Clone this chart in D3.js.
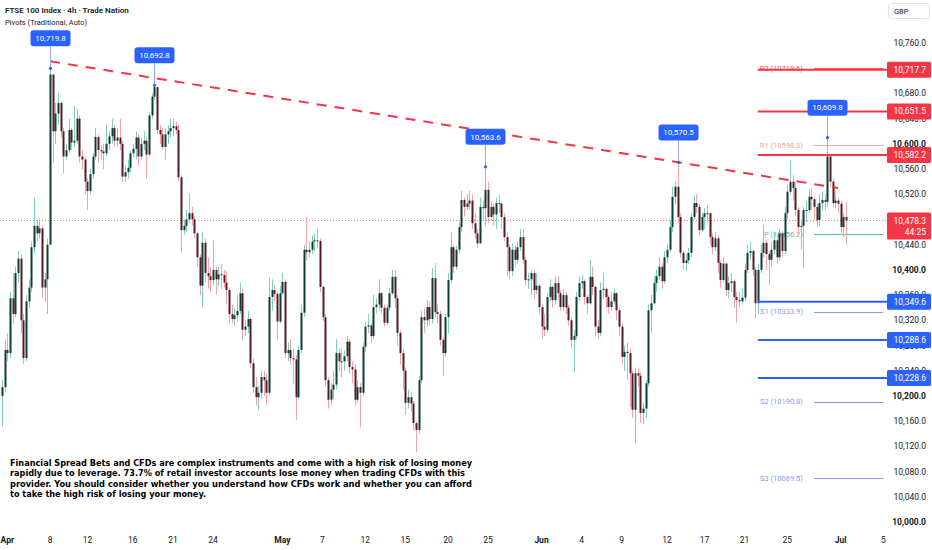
<!DOCTYPE html>
<html>
<head>
<meta charset="utf-8">
<script src="https://cdn.jsdelivr.net/npm/d3@7"></script>
<style>
body { margin: 0; background: #ffffff; }
svg { display: block; font-family: Roboto, "Noto Sans", sans-serif; }
</style>
</head>
<body>
<script>
// 4h candles: [high, low, close]; open = previous close
var firstOpen = 10200;
var candles = [
 [10225,10152,10214],[10290,10205,10273],[10300,10255,10268],[10365,10260,10355],[10395,10315,10330],
 [10405,10325,10395],[10430,10380,10418],[10425,10300,10320],[10330,10250,10260],[10360,10255,10350],
 [10385,10340,10372],[10445,10365,10436],[10514,10425,10470],[10480,10445,10458],[10482,10450,10466],
 [10470,10355,10372],[10395,10350,10385],[10450,10330,10440],[10719.8,10440,10710],[10700,10570,10620],
 [10665,10600,10648],[10680,10630,10665],[10668,10610,10620],[10625,10553,10580],[10600,10575,10590],
 [10640,10585,10622],[10625,10590,10602],[10660,10595,10605],[10655,10600,10640],[10645,10570,10580],
 [10590,10560,10575],[10580,10520,10540],[10545,10495,10525],[10560,10520,10552],[10585,10545,10580],
 [10625,10575,10611],[10615,10570,10590],[10598,10575,10588],[10600,10560,10585],[10630,10580,10600],
 [10620,10590,10612],[10640,10600,10625],[10630,10595,10605],[10625,10595,10610],[10640,10590,10600],
 [10605,10540,10548],[10565,10540,10555],[10575,10545,10562],[10590,10555,10585],[10600,10578,10592],
 [10620,10575,10610],[10615,10565,10580],[10610,10575,10600],[10620,10590,10605],[10610,10545,10583],
 [10650,10580,10645],[10680,10640,10675],[10692.8,10670,10690],[10688,10615,10622],[10630,10600,10615],
 [10625,10590,10595],[10625,10575,10615],[10630,10600,10620],[10640,10610,10625],[10640,10612,10628],
 [10635,10615,10622],[10630,10540,10547],[10550,10427,10463],[10480,10455,10470],[10495,10460,10480],
 [10522,10475,10490],[10500,10470,10480],[10485,10450,10458],[10460,10405,10420],[10425,10360,10375],
 [10460,10341,10443],[10450,10380,10395],[10420,10370,10390],[10405,10365,10384],[10447,10375,10400],
 [10405,10360,10385],[10405,10375,10393],[10410,10370,10392],[10400,10372,10380],[10398,10345,10368],
 [10372,10315,10330],[10345,10315,10322],[10340,10312,10328],
 [10360,10318,10335],[10379,10330,10363],[10370,10289,10305],[10320,10295,10310],[10335,10300,10322],
 [10325,10245,10252],[10260,10205,10214],[10230,10185,10198],[10215,10178,10205],[10240,10195,10230],
 [10240,10200,10225],[10235,10185,10205],[10387,10200,10357],[10385,10335,10368],[10375,10350,10362],
 [10365,10290,10318],[10375,10315,10363],[10395,10360,10381],[10385,10260,10268],[10285,10255,10273],
 [10290,10250,10260],[10275,10220,10258],[10265,10162,10198],[10280,10195,10273],[10345,10268,10332],
 [10440,10325,10432],[10484,10415,10428],[10445,10420,10432],[10455,10425,10445],[10458,10430,10447],
 [10465,10435,10446],[10450,10365,10373],[10375,10318,10325],[10330,10215,10225],[10230,10180,10194],
 [10220,10185,10210],[10240,10195,10218],[10290,10210,10268],[10275,10240,10255],[10275,10230,10255],
 [10272,10240,10263],[10295,10255,10286],[10290,10235,10246],[10255,10220,10242],[10250,10185,10194],
 [10225,10190,10214],[10220,10150,10205],[10285,10200,10278],[10318,10270,10310],[10330,10300,10312],
 [10315,10285,10295],[10360,10290,10341],[10355,10330,10345],[10385,10335,10363],[10365,10330,10340],
 [10345,10310,10316],[10345,10312,10340],[10372,10335,10363],[10400,10360,10389],[10400,10340,10355],
 [10360,10280,10300],[10305,10250,10268],[10275,10210,10240],[10245,10170,10189],[10210,10180,10198],
 [10205,10175,10188],[10192,10145,10157],[10160,10111,10146],[10232,10140,10225],[10335,10220,10325],
 [10340,10300,10320],[10352,10310,10341],[10350,10312,10322],[10403,10315,10387],[10411,10325,10333],
 [10345,10315,10330],[10335,10280,10289],[10292,10232,10268],[10330,10262,10325],[10395,10300,10384],
 [10460,10380,10436],[10440,10395,10405],[10438,10400,10432],[10475,10425,10468],[10525,10460,10511],
 [10515,10485,10500],
 [10520,10495,10505],[10525,10495,10510],[10520,10465,10474],[10490,10450,10458],[10465,10435,10442],
 [10515,10442,10500],[10510,10480,10498],[10563.6,10470,10527],[10540,10475,10484],[10510,10478,10500],
 [10505,10470,10488],[10515,10465,10506],[10520,10490,10505],[10508,10465,10484],[10490,10445,10452],
 [10460,10390,10436],[10440,10385,10398],[10442,10390,10432],[10440,10405,10416],[10445,10410,10436],
 [10465,10430,10452],[10465,10410,10416],[10420,10375,10384],[10395,10370,10385],[10400,10360,10395],
 [10400,10355,10368],[10395,10362,10375],[10378,10330,10341],[10345,10290,10310],[10330,10295,10305],
 [10362,10300,10357],[10385,10350,10373],[10375,10340,10352],[10390,10345,10379],[10390,10352,10363],
 [10368,10335,10341],[10370,10335,10360],[10365,10330,10340],[10345,10312,10320],[10325,10275,10289],
 [10305,10238,10295],[10365,10290,10357],[10390,10350,10379],[10392,10370,10382],[10385,10345,10357],
 [10360,10330,10347],[10416,10345,10389],[10405,10360,10373],[10375,10295,10310],[10320,10290,10300],
 [10380,10295,10368],[10395,10355,10370],[10372,10340,10357],[10360,10330,10341],[10365,10335,10350],
 [10370,10345,10363],[10365,10320,10336],[10340,10295,10310],[10315,10250,10262],[10280,10240,10270],
 [10285,10225,10268],[10275,10182,10236],[10240,10165,10178],[10245,10125,10236],[10245,10215,10232],
 [10238,10157,10173],[10190,10155,10180],[10225,10165,10220],[10345,10215,10336],[10360,10300,10347],
 [10390,10345,10379],[10400,10365,10390],[10420,10385,10405],[10410,10370,10382],[10430,10378,10420],
 [10440,10410,10432],[10480,10428,10468],[10532,10460,10516],[10540,10505,10532],[10570.5,10475,10484],
 [10490,10420,10427],[10430,10400,10411],[10425,10398,10415],[10435,10410,10427],[10490,10420,10484],
 [10518,10480,10506],
 [10520,10490,10500],[10505,10455,10463],[10490,10460,10484],[10498,10465,10490],[10502,10475,10490],
 [10492,10440,10452],[10458,10425,10436],[10460,10430,10450],[10455,10395,10411],[10415,10372,10384],
 [10420,10380,10410],[10412,10358,10368],[10390,10355,10379],[10395,10365,10382],[10385,10340,10357],
 [10365,10316,10352],[10365,10340,10350],[10370,10345,10356],[10410,10350,10400],[10440,10395,10427],
 [10445,10415,10430],[10432,10390,10400],[10405,10322,10347],[10410,10330,10400],[10440,10395,10427],
 [10471,10420,10443],[10448,10400,10425],[10430,10376,10416],[10445,10405,10432],[10460,10425,10447],
 [10455,10410,10420],[10465,10415,10458],[10462,10420,10430],[10500,10425,10490],[10535,10480,10524],
 [10574,10520,10540],[10550,10510,10530],[10540,10485,10495],[10500,10455,10468],[10480,10432,10470],
 [10500,10403,10495],[10510,10475,10495],[10528,10490,10516],[10530,10495,10512],[10515,10480,10500],
 [10505,10468,10479],[10520,10470,10506],[10525,10495,10511],[10520,10495,10508],[10609.8,10500,10580],
 [10582,10532,10540],[10545,10500,10506],[10525,10498,10510],[10515,10490,10505],[10510,10458,10468],
 [10490,10452,10484],[10508,10440,10478.3]
];

var priceTicks = [10000,10040,10080,10120,10160,10200,10240,10280,10320,10360,
                  10400,10440,10480,10520,10560,10600,10640,10680,10720,10760];
var boldTicks = [10000,10200,10400,10600];

var timeLabels = ["Apr","8","12","16","21","24","May","7","12","15","20","25",
                  "Jun","4","9","12","17","21","25","Jul","5"];
var timeBars = [2,18,32,49,64,79,105,120,136,151,167,182,202,217,232,249,263,278,294,314,330];
var monthLabels = ["Apr","May","Jun","Jul"];

var pivotNames = ["R2","R1","P","S1","S2","S3"];
var pivotValues = [10719.6,10598.3,10456.2,10333.9,10190.8,10069.5];
var pivotColors = ["#f7525f","#f7a1a8","#5cbfa7","#7e9cf8","#7e9cf8","#7e9cf8"];
var pivotStartBar = 304, pivotEndBar = 330;

var resistLevels = [10717.7,10651.5,10582.2];
var supportLevels = [10349.6,10288.6,10228.6];
var levelStartBar = 283;

var swingHighs = [10719.8,10692.8,10563.6,10570.5,10609.8];
var trendBars = [18,313];
var trendPrices = [10731,10530];

var lastPrice = 10478.3;
var countdown = "44:25";

var disclaimer = [
 "Financial Spread Bets and CFDs are complex instruments and come with a high risk of losing money",
 "rapidly due to leverage. 73.7% of retail investor accounts lose money when trading CFDs with this",
 "provider. You should consider whether you understand how CFDs work and whether you can afford",
 "to take the high risk of losing your money."
];
var disclaimerWidths = [462,455,462,196];

// ---- setup
var W = 932, H = 550;
var svg = d3.select("body").append("svg").attr("width", W).attr("height", H);

var n = candles.length;
var x = d3.scaleLinear().domain([0, n - 1]).range([2, 846]);
var y = d3.scaleLinear().domain([10000, 10760]).range([522, 43]);
var plotRight = 887;

var fmt = d3.format(",.1f");

var bars = candles.map(function(d, i){
  var o = i == 0 ? firstOpen : candles[i-1][2];
  return {i: i, o: o, h: d[0], l: d[1], c: d[2]};
});

var plot = svg.append("g");

// last price dotted line
plot.append("line")
  .attr("x1", 0).attr("x2", plotRight)
  .attr("y1", y(lastPrice)).attr("y2", y(lastPrice))
  .attr("stroke", "#f23645").attr("stroke-opacity", 0.7)
  .attr("stroke-width", 1).attr("stroke-dasharray", "1,2");

// pivots
var piv = plot.selectAll("g.pivot")
  .data(pivotValues)
  .enter().append("g").attr("class", "pivot");

piv.append("line")
  .attr("x1", x(pivotStartBar)).attr("x2", x(pivotEndBar))
  .attr("y1", function(d){ return Math.round(y(d)) + 0.5; })
  .attr("y2", function(d){ return Math.round(y(d)) + 0.5; })
  .attr("stroke", function(d,i){ return pivotColors[i]; })
  .attr("stroke-width", 1);

piv.append("text")
  .attr("x", x(pivotStartBar) - 11)
  .attr("y", function(d){ return y(d); })
  .attr("dy", "0.35em")
  .attr("text-anchor", "end")
  .style("font-size", "7.5px")
  .attr("fill", function(d,i){ return pivotColors[i]; })
  .text(function(d,i){ return pivotNames[i] + " (" + d3.format(".1f")(d) + ")"; });

// candles
var upWick = "#7fcfc2", downWick = "#f5a3ab";
var upBody = "#0e3d36", downBody = "#541d25";

plot.selectAll("line.wick")
  .data(bars)
  .enter().append("line")
  .attr("class", "wick")
  .attr("x1", function(d){ return Math.round(x(d.i)) + 0.5; })
  .attr("x2", function(d){ return Math.round(x(d.i)) + 0.5; })
  .attr("y1", function(d){ return y(Math.max(d.h, d.o, d.c)); })
  .attr("y2", function(d){ return y(Math.min(d.l, d.o, d.c)); })
  .attr("stroke", function(d){ return d.c >= d.o ? upWick : downWick; })
  .attr("stroke-width", 1);

plot.selectAll("rect.body")
  .data(bars)
  .enter().append("rect")
  .attr("class", "body")
  .attr("x", function(d){ return Math.round(x(d.i)) - 0.5; })
  .attr("width", 2)
  .attr("y", function(d){ return y(Math.max(d.o, d.c)); })
  .attr("height", function(d){ return Math.max(1, Math.abs(y(d.o) - y(d.c))); })
  .attr("fill", function(d){ return d.c >= d.o ? upBody : downBody; });

// horizontal levels
plot.selectAll("line.res")
  .data(resistLevels)
  .enter().append("line")
  .attr("x1", x(levelStartBar)).attr("x2", plotRight)
  .attr("y1", function(d){ return y(d); }).attr("y2", function(d){ return y(d); })
  .attr("stroke", "#f23645").attr("stroke-width", 2);

plot.selectAll("line.sup")
  .data(supportLevels)
  .enter().append("line")
  .attr("x1", x(levelStartBar)).attr("x2", plotRight)
  .attr("y1", function(d){ return y(d); }).attr("y2", function(d){ return y(d); })
  .attr("stroke", "#2962ff").attr("stroke-width", 2);

// trend line
plot.append("line")
  .attr("x1", x(trendBars[0])).attr("y1", y(trendPrices[0]))
  .attr("x2", x(trendBars[1])).attr("y2", y(trendPrices[1]))
  .attr("stroke", "#f23645").attr("stroke-width", 2)
  .attr("stroke-dasharray", "10,8");

// swing high callouts
var mk = plot.selectAll("g.marker")
  .data(swingHighs)
  .enter().append("g")
  .attr("class", "marker")
  .attr("transform", function(d){
    var idx = candles.findIndex(function(c){ return c[0] === d; });
    return "translate(" + (Math.round(x(idx)) + 0.5) + "," + y(d) + ")";
  });

mk.append("line")
  .attr("x1", 0).attr("x2", 0).attr("y1", 0).attr("y2", -22)
  .attr("stroke", "#8fa8f7").attr("stroke-width", 1);
mk.append("circle").attr("r", 1.6).attr("fill", "#2962ff");
mk.append("rect")
  .attr("x", -20).attr("y", -38).attr("width", 40).attr("height", 16)
  .attr("rx", 3).attr("fill", "#2962ff");
mk.append("text")
  .attr("y", -30).attr("dy", "0.35em")
  .attr("text-anchor", "middle")
  .attr("fill", "#ffffff")
  .style("font-size", "8px")
  .text(function(d){ return fmt(d); });

// price axis
var axisG = svg.append("g");
axisG.selectAll("text.tick")
  .data(priceTicks)
  .enter().append("text")
  .attr("x", 926)
  .attr("y", function(d){ return y(d); })
  .attr("dy", "0.35em")
  .attr("text-anchor", "end")
  .attr("fill", "#131722")
  .style("font-size", "8.5px")
  .style("font-weight", function(d){ return boldTicks.indexOf(d) >= 0 ? "bold" : "normal"; })
  .text(function(d){ return fmt(d); });

function priceTag(value, color){
  var g = axisG.append("g").attr("transform", "translate(0," + y(value) + ")");
  g.append("rect").attr("x", 887).attr("y", -8).attr("width", 44).attr("height", 16)
    .attr("rx", 1.5).attr("fill", color);
  g.append("text").attr("x", 926).attr("dy", "0.35em").attr("text-anchor", "end")
    .attr("fill", "#ffffff").style("font-size", "8.5px").text(fmt(value));
}
resistLevels.forEach(function(v){ priceTag(v, "#f23645"); });
supportLevels.forEach(function(v){ priceTag(v, "#2962ff"); });

// last price tag with countdown
var lp = axisG.append("g").attr("transform", "translate(0," + y(lastPrice) + ")");
lp.append("rect").attr("x", 887).attr("y", -8).attr("width", 44).attr("height", 27)
  .attr("rx", 1.5).attr("fill", "#f23645");
lp.append("text").attr("x", 926).attr("dy", "0.35em").attr("text-anchor", "end")
  .attr("fill", "#ffffff").style("font-size", "8.5px").text(fmt(lastPrice));
lp.append("text").attr("x", 926).attr("y", 11).attr("dy", "0.35em").attr("text-anchor", "end")
  .attr("fill", "#ffffff").style("font-size", "8.5px").text(countdown);

// currency box
svg.append("rect").attr("x", 888.5).attr("y", 3.5).attr("width", 41).attr("height", 15)
  .attr("rx", 3).attr("fill", "#ffffff").attr("stroke", "#e0e3eb");
svg.append("text").attr("x", 894).attr("y", 11).attr("dy", "0.35em")
  .attr("fill", "#131722").style("font-size", "7.5px").text("GBP");

// time axis
svg.selectAll("text.time")
  .data(timeLabels)
  .enter().append("text")
  .attr("x", function(d,i){ return x(timeBars[i]); })
  .attr("y", 540)
  .attr("dy", "0.35em")
  .attr("text-anchor", "middle")
  .attr("fill", "#131722")
  .style("font-size", "8.5px")
  .style("font-weight", function(d){ return monthLabels.indexOf(d) >= 0 ? "bold" : "normal"; })
  .text(function(d){ return d; });

// legend
svg.append("text").attr("x", 5).attr("y", 13)
  .attr("fill", "#131722").style("font-size", "8px").style("font-weight", "600")
  .text("FTSE 100 Index · 4h · Trade Nation");
svg.append("text").attr("x", 5).attr("y", 25)
  .attr("fill", "#131722").style("font-size", "7.5px")
  .text("Pivots (Traditional, Auto)");

// disclaimer
svg.selectAll("text.disc")
  .data(disclaimer)
  .enter().append("text")
  .attr("x", 10)
  .attr("y", function(d,i){ return 466 + i * 10.4; })
  .attr("textLength", function(d,i){ return disclaimerWidths[i]; })
  .attr("lengthAdjust", "spacingAndGlyphs")
  .attr("fill", "#000000")
  .style("font-family", "'DejaVu Sans Condensed', 'DejaVu Sans', sans-serif")
  .style("font-size", "9.5px")
  .style("font-weight", "bold")
  .text(function(d){ return d; });
</script>
</body>
</html>
